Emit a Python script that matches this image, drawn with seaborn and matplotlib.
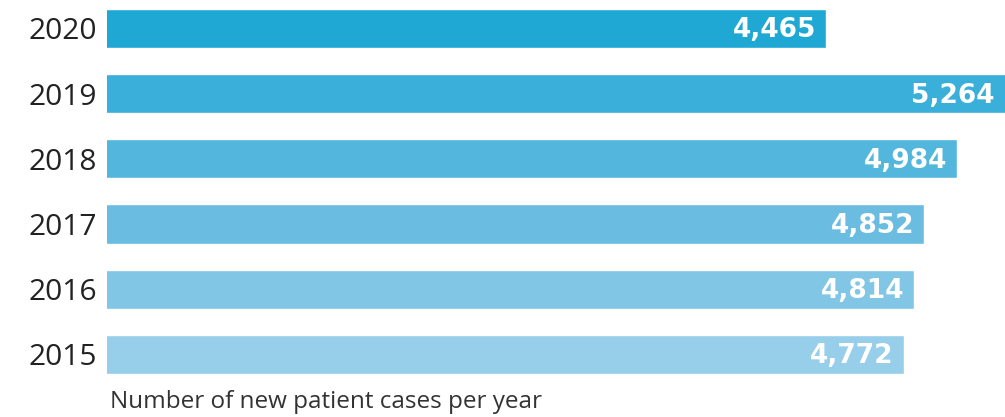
import matplotlib
matplotlib.use("Agg")
import matplotlib.pyplot as plt
import seaborn as sns

years = ["2020", "2019", "2018", "2017", "2016", "2015"]
cases = [4465, 5264, 4984, 4852, 4814, 4772]
colors = ["#1fa8d4", "#39afd9", "#53b6dc", "#6abde1", "#81c6e5", "#97cfea"]
xlabel_text = "Number of new patient cases per year"

sns.set_style("white")
plt.rcParams["font.family"] = ["Open Sans", "DejaVu Sans"]

fig = plt.figure(figsize=(10.05, 4.17), dpi=100)
ax = fig.add_axes([107 / 1005, 30 / 417, 1 - 107 / 1005, 387 / 417])

sns.barplot(x=cases, y=years, hue=years, palette=colors, legend=False,
            orient="h", width=0.6, saturation=1, ax=ax)

# the scale does not start at zero in the original
xmin, xmax = 1615, 5173
ax.set_xlim(xmin, xmax)
ax.set_ylim(5.5, -0.437)

for p in ax.patches:
    end = min(p.get_width(), xmax)
    yc = p.get_y() + p.get_height() / 2
    ax.annotate(f"{int(round(p.get_width())):,}", (end, yc),
                xytext=(-10, -2), textcoords="offset pixels",
                ha="right", va="center", color="white",
                fontsize=19, fontweight="bold", family="DejaVu Sans")

ax.set_xticks([])
ax.set_xlabel("")
ax.set_ylabel("")
ax.tick_params(axis="y", length=0, pad=7, labelsize=21.5, labelcolor="#222222")
sns.despine(ax=ax, left=True, bottom=True)

fig.text(110 / 1005, 1 - 408 / 417, xlabel_text, fontsize=17.5,
         color="#333333", ha="left", va="baseline")

fig.savefig("out.png", dpi=100)
